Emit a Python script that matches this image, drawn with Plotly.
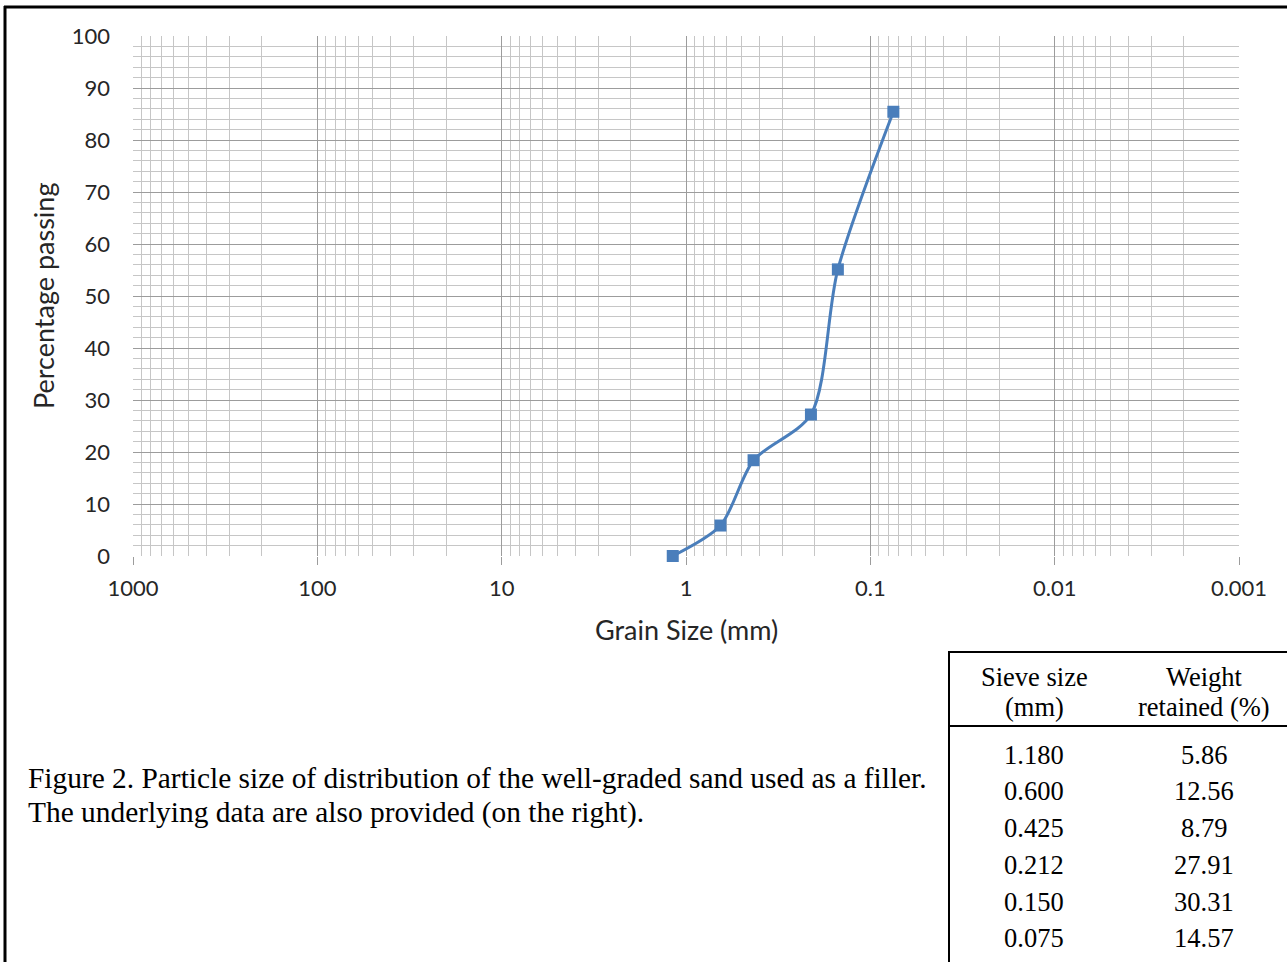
import plotly.graph_objects as go

# ---- data ----
grain_size_mm = [1.18, 0.65, 0.43, 0.21, 0.15, 0.075]
percent_plotted = [0.0, 5.86, 18.42, 27.21, 55.12, 85.43]

x_tick_vals = [1000, 100, 10, 1, 0.1, 0.01, 0.001]
x_tick_text = ["1000", "100", "10", "1", "0.1", "0.01", "0.001"]

table_sieve = ["1.180", "0.600", "0.425", "0.212", "0.150", "0.075"]
table_retained = ["5.86", "12.56", "8.79", "27.91", "30.31", "14.57"]

caption_lines = [
    "Figure 2. Particle size of distribution of the well-graded sand used as a filler.",
    "The underlying data are also provided (on the right).",
]

W, H = 1287, 962
L, R, T, B = 133, 1239, 36, 556  # plot area in pixels


def px(x):
    return (x - L) / (R - L)


def py(y):
    return (B - y) / (B - T)


BLUE = "#4a7ebb"
MAJOR = "#9c9c9c"
MINOR = "#c6c6c6"
AXFONT = "Lato"
TXT = "#262626"

fig = go.Figure()
fig.add_trace(
    go.Scatter(
        x=grain_size_mm,
        y=percent_plotted,
        mode="lines+markers",
        line=dict(color=BLUE, width=3, shape="spline", smoothing=0.8),
        marker=dict(symbol="square", size=12, color=BLUE),
        showlegend=False,
        cliponaxis=False,
    )
)

fig.update_xaxes(
    type="log",
    range=[3, -3],
    tickvals=x_tick_vals,
    ticktext=x_tick_text,
    showgrid=True,
    gridcolor=MAJOR,
    gridwidth=1.2,
    ticks="outside",
    ticklen=8,
    tickcolor=MAJOR,
    tickwidth=1,
    tickfont=dict(family=AXFONT, size=22, color=TXT),
    ticklabelstandoff=5,
    minor=dict(dtick="D1", showgrid=True, gridcolor=MINOR, gridwidth=1.2, ticks=""),
    showline=False,
    zeroline=False,
)
fig.update_yaxes(
    range=[0, 100],
    dtick=10,
    showgrid=True,
    gridcolor=MAJOR,
    gridwidth=1.2,
    ticks="",
    tickfont=dict(family=AXFONT, size=22, color=TXT),
    ticklabelstandoff=22,
    minor=dict(dtick=2, showgrid=True, gridcolor=MINOR, gridwidth=1.2),
    showline=False,
    zeroline=False,
)

annotations = [
    dict(x=px(686), y=py(629), text="Grain Size (mm)", font=dict(family=AXFONT, size=27, color=TXT)),
    dict(x=px(43), y=py(296), text="Percentage passing", textangle=-90,
         font=dict(family=AXFONT, size=27, color=TXT)),
]
for a in annotations:
    a.update(xref="paper", yref="paper", showarrow=False, xanchor="center", yanchor="middle")

SERIF = "Liberation Serif"
cap_y = [778, 812]
for line, yy in zip(caption_lines, cap_y):
    annotations.append(dict(xref="paper", yref="paper", x=px(26), y=py(yy), text=line, showarrow=False,
                            xanchor="left", yanchor="middle",
                            font=dict(family=SERIF, size=29.4, color="#000000")))

# table header
TFS = 26.5
for txt, cx, yy in [("Sieve size", 1034, 677), ("(mm)", 1034, 707),
                    ("Weight", 1204, 677), ("retained (%)", 1204, 707)]:
    annotations.append(dict(xref="paper", yref="paper", x=px(cx), y=py(yy), text=txt, showarrow=False,
                            xanchor="center", yanchor="middle",
                            font=dict(family=SERIF, size=TFS, color="#000000")))
row_y = [755, 791, 828, 865, 902, 938]
for s, w, yy in zip(table_sieve, table_retained, row_y):
    annotations.append(dict(xref="paper", yref="paper", x=px(1034), y=py(yy), text=s, showarrow=False,
                            xanchor="center", yanchor="middle",
                            font=dict(family=SERIF, size=TFS, color="#000000")))
    annotations.append(dict(xref="paper", yref="paper", x=px(1204), y=py(yy), text=w, showarrow=False,
                            xanchor="center", yanchor="middle",
                            font=dict(family=SERIF, size=TFS, color="#000000")))

shapes = []


def hline(x0, x1, y, w=2):
    shapes.append(dict(type="line", xref="paper", yref="paper", x0=px(x0), x1=px(x1), y0=py(y), y1=py(y),
                       line=dict(color="#000000", width=w)))


def vline(x, y0, y1, w=2):
    shapes.append(dict(type="line", xref="paper", yref="paper", x0=px(x), x1=px(x), y0=py(y0), y1=py(y1),
                       line=dict(color="#000000", width=w)))


# outer frame
hline(4, W + 5, 7, 3)
vline(5, 6, H + 5, 3)
# table lines
hline(948, W + 5, 652, 2)
hline(948, W + 5, 726, 2)
vline(949, 651, H + 5, 2)

fig.update_layout(
    width=W,
    height=H,
    margin=dict(l=L, r=W - R, t=T, b=H - B, autoexpand=False),
    paper_bgcolor="white",
    plot_bgcolor="white",
    annotations=annotations,
    shapes=shapes,
    showlegend=False,
)

fig.write_html(
    "out.html",
    config={"displayModeBar": False},
    post_script="document.body.style.margin='0px';document.body.style.overflow='hidden';",
)
